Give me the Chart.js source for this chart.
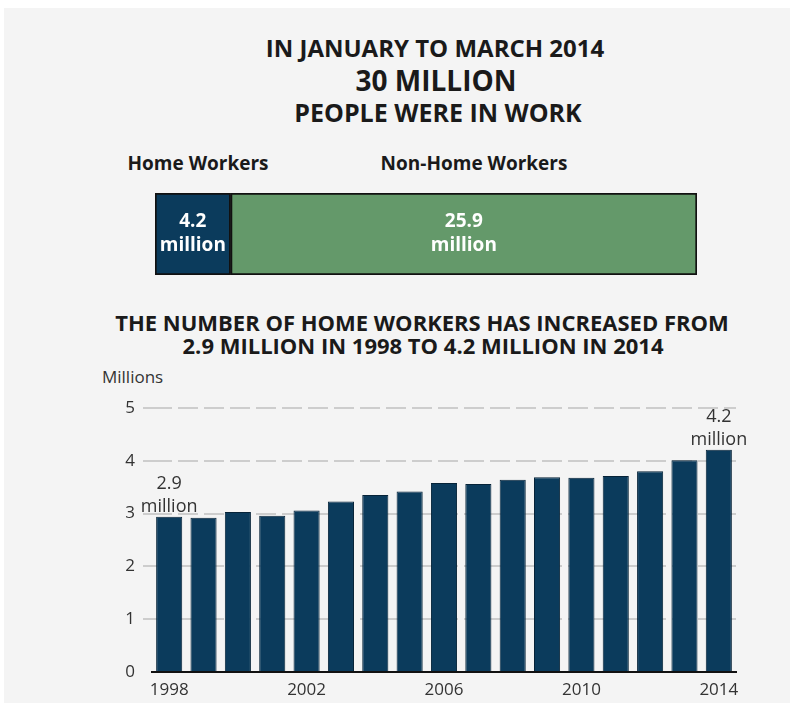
<!DOCTYPE html>
<html>
<head>
<meta charset="utf-8">
<script src="https://cdn.jsdelivr.net/npm/chart.js@4.4.0/dist/chart.umd.min.js"></script>
<style>
  html, body { margin: 0; padding: 0; background: #fff; }
  #page { position: absolute; left: 4px; top: 8px; width: 786px; height: 695px; background: #f4f4f4; }
  .t { position: absolute; font-family: "Open Sans", sans-serif; font-weight: 700; color: #1a1a1a; white-space: nowrap; transform: translateX(-50%); line-height: 30px; }
  .lbl { position: absolute; font-family: "Open Sans", sans-serif; color: #333; font-size: 17px; line-height: 20px; }
  canvas { position: absolute; }
</style>
</head>
<body>
<div id="page"></div>
<div class="t" style="left:435px; top:33px; font-size:24px;">IN JANUARY TO MARCH 2014</div>
<div class="t" style="left:436px; top:65px; font-size:28px;">30 MILLION</div>
<div class="t" style="left:438px; top:97px; font-size:25px;">PEOPLE WERE IN WORK</div>
<div class="t" style="left:198px; top:148px; font-size:19px;">Home Workers</div>
<div class="t" style="left:474px; top:148px; font-size:19px;">Non-Home Workers</div>
<div class="t" style="left:422px; top:307px; font-size:22px;">THE NUMBER OF HOME WORKERS HAS INCREASED FROM</div>
<div class="t" style="left:423px; top:330px; font-size:22px;">2.9 MILLION IN 1998 TO 4.2 MILLION IN 2014</div>
<div class="lbl" style="left:102px; top:367px;">Millions</div>

<canvas id="split" width="542" height="82" style="left:155px; top:193px;"></canvas>
<canvas id="trend" width="670" height="340" style="left:90px; top:360px;"></canvas>

<script>
// workers in Jan-Mar 2014, millions
const groups = ['Home Workers', 'Non-Home Workers'];
const groupValues = [4.2, 25.9];

// home workers by year, millions
const years = ['1998', '1999', '2000', '2001', '2002', '2003', '2004', '2005', '2006',
  '2007', '2008', '2009', '2010', '2011', '2012', '2013', '2014'];
const homeWorkers = [2.94, 2.92, 3.03, 2.96, 3.06, 3.23, 3.35, 3.42, 3.58,
  3.56, 3.64, 3.69, 3.68, 3.71, 3.80, 4.01, 4.21];
const yTicks = [0, 1, 2, 3, 4, 5];

const navy = '#0b3b5c';
const green = '#64996a';
const font = '"Open Sans", sans-serif';

// labels in the middle of each segment of the split bar
const splitLabels = {
  id: 'splitLabels',
  afterDatasetsDraw(chart) {
    const c = chart.ctx;
    c.save();
    c.fillStyle = '#fff';
    c.font = 'bold 19px ' + font;
    c.textAlign = 'center';
    c.textBaseline = 'middle';
    chart.data.datasets.forEach((ds, i) => {
      const bar = chart.getDatasetMeta(i).data[0];
      const x = (bar.x + bar.base) / 2;
      c.fillText(ds.data[0].toFixed(1), x, bar.y - 12);
      c.fillText('million', x, bar.y + 12);
    });
    c.restore();
  }
};

new Chart(document.getElementById('split'), {
  type: 'bar',
  data: {
    labels: ['2014'],
    datasets: groups.map((g, i) => ({
      label: g,
      data: [groupValues[i]],
      backgroundColor: i === 0 ? navy : green,
      borderColor: '#111',
      borderWidth: 2,
      borderSkipped: false,
      barPercentage: 1,
      categoryPercentage: 1
    }))
  },
  options: {
    indexAxis: 'y',
    responsive: false,
    animation: false,
    layout: { padding: 0 },
    plugins: { legend: { display: false }, tooltip: { enabled: false } },
    scales: {
      x: { stacked: true, display: false, min: 0, max: groupValues[0] + groupValues[1] },
      y: { stacked: true, display: false }
    }
  },
  plugins: [splitLabels]
});

// "x million" notes above the first and last bars
const endNotes = {
  id: 'endNotes',
  afterDatasetsDraw(chart) {
    const c = chart.ctx;
    const bars = chart.getDatasetMeta(0).data;
    const ends = [[0, '2.9'], [bars.length - 1, '4.2']];
    c.save();
    c.fillStyle = '#333';
    c.font = '18px ' + font;
    c.textAlign = 'center';
    c.textBaseline = 'middle';
    ends.forEach(([i, txt]) => {
      const b = bars[i];
      c.fillText(txt, b.x, b.y - 33);
      c.fillText('million', b.x, b.y - 10);
    });
    c.restore();
  }
};

new Chart(document.getElementById('trend'), {
  type: 'bar',
  data: {
    labels: years,
    datasets: [{
      data: homeWorkers,
      backgroundColor: navy,
      borderColor: '#062338',
      borderWidth: 1,
      borderSkipped: 'bottom',
      barPercentage: 0.76,
      categoryPercentage: 1
    }]
  },
  options: {
    responsive: false,
    animation: false,
    layout: { padding: { top: 48, right: 24, left: 0, bottom: 0 } },
    plugins: { legend: { display: false }, tooltip: { enabled: false } },
    scales: {
      x: {
        afterFit: s => { s.height = 28; },
        grid: { display: false },
        border: { display: true, color: '#111', width: 2 },
        ticks: {
          autoSkip: false,
          maxRotation: 0,
          padding: 0,
          color: '#333',
          font: { family: font, size: 17 },
          callback: (v, i) => (i % 4 === 0 ? years[i] : '')
        }
      },
      y: {
        min: 0,
        max: 5,
        afterFit: s => { s.width = 62; },
        afterBuildTicks: s => { s.ticks = yTicks.map(v => ({ value: v })); },
        border: { display: false, dash: [20, 6] },
        grid: {
          color: ctx => (ctx.tick && ctx.tick.value === 0 ? 'rgba(0,0,0,0)' : '#cdcdcd'),
          lineWidth: 2,
          tickLength: 9,
          tickColor: ctx => (ctx.tick && ctx.tick.value === 0 ? 'rgba(0,0,0,0)' : '#cdcdcd')
        },
        ticks: {
          padding: 8,
          color: '#333',
          font: { family: font, size: 17 }
        }
      }
    }
  },
  plugins: [endNotes]
});
</script>
</body>
</html>
